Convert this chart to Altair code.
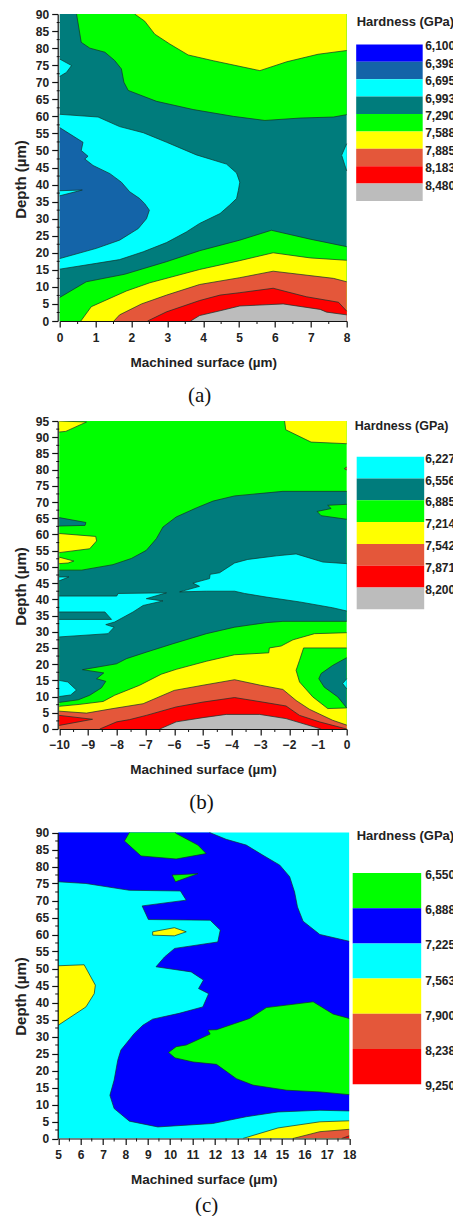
import altair as alt
import pandas as pd

BLUE, STEEL, CYAN, TEAL, GREEN, YELLOW, ORANGE, RED, GREY = (
    "#0000ff", "#1464a8", "#00ffff", "#007c7c", "#00ff00", "#ffff00", "#e4573a", "#ff0000", "#bcbcbc")
FONT = "Liberation Sans"

# ---------- panel (a) contour regions: (x, depth), painted in order
A_POLYS = [
 (TEAL, [(0,90),(8,90),(8,0),(0,0)]),
 (GREEN, [(0.47,90),(0.6,81.7),(0.84,80),(1.26,78.8),(1.53,76.4),(1.72,73.9),(1.79,70),(1.91,67.6),(2.7,64.4),(3.72,62),(4.84,60),(5.72,58.8),(6.7,59.5),(7.63,59.8),(8,60.5),(8,90)]),
 (YELLOW, [(2.09,90),(2.37,87.9),(2.65,84.1),(3.07,81.2),(3.58,78),(4.28,76.3),(5.58,73.4),(6.33,76),(7.2,78.2),(8,79.3),(8,90)]),
 (CYAN, [(0,76.8),(0.33,74.9),(0.19,72.9),(0,71.7)]),
 (CYAN, [(8,52),(7.86,48.6),(8,44)]),
 (CYAN, [(0,60.6),(1.07,59.8),(1.67,57),(2.33,55.2),(2.98,52.4),(3.81,48.7),(4.65,46),(4.93,43.4),(5.02,40.7),(4.98,38.3),(4.93,35.9),(4.74,34),(4.47,31.5),(3.9,28.6),(3.53,26.1),(2.98,23),(2.33,20.3),(1.67,18),(1.02,16.9),(0,15.2)]),
 (STEEL, [(0,56.7),(0.65,52.4),(0.6,50),(0.79,48.3),(0.7,47.5),(0.93,45.6),(1.4,43.2),(1.72,40.7),(1.95,37.9),(2.23,35.9),(2.37,34.4),(2.5,32.5),(2.42,30),(2.19,27.1),(1.67,23.7),(1.02,21.3),(0,18.3)]),
 (CYAN, [(0,38.2),(0.63,38.4),(0,36.7)]),
 (GREEN, [(0,6.9),(0.74,11.5),(1.81,13.7),(2.98,17.4),(3.9,20.6),(5.02,23.7),(5.9,26.6),(6.98,24),(8,21.8),(8,0),(0,0)]),
 (YELLOW, [(0.59,0),(0.88,4.2),(1.86,8.8),(2.51,11.2),(3.9,15.1),(5.02,17.7),(5.95,20),(6.98,18.5),(8,17.8),(8,0)]),
 (ORANGE, [(1.51,0),(1.67,1.8),(2.28,5),(2.98,7.6),(3.9,10.7),(5.02,12.7),(5.95,14.6),(7.63,12.5),(8,11.5),(8,0)]),
 (RED, [(2.45,0),(2.98,2.7),(3.9,6),(4.47,7.6),(5.02,8.3),(5.95,9.6),(6.88,7.1),(7.77,5.5),(8,2.9),(8,0)]),
 (GREY, [(3.65,0),(3.9,1.6),(4.47,3),(5.02,4.4),(6.23,5),(7.26,3.4),(7.44,2.6),(8,1.8),(8,0)]),
]

# ---------- panel (b)
B_POLYS = [
 (GREEN, [(-10,95),(0,95),(0,0),(-10,0)]),
 (YELLOW, [(-10,95),(-9.05,94.7),(-9.77,91.8),(-10,91.6)]),
 (YELLOW, [(-2.16,95),(-2.12,92.3),(-1.24,88.5),(0,88),(0,95)]),
 (ORANGE, [(0,80.8),(-0.08,80.3),(0,79.9)]),
 (TEAL, [(-10,49),(-9.22,49),(-8.13,50.7),(-7.49,52.6),(-6.97,55.1),(-6.62,58.7),(-6.39,62.3),(-5.93,65.4),(-5.23,68.2),(-4.65,70.3),(-3.9,71.9),(-2.22,73.3),(0,73.3),(0,33.2),(-2.22,33.2),(-2.8,32.8),(-3.9,31.4),(-4.88,29.4),(-6.04,26.3),(-6.97,23.7),(-7.66,21.7),(-8.01,20.1),(-9.19,18.3),(-8.45,17.3),(-8.7,15.5),(-8.38,14.7),(-8.53,12.7),(-8.94,10.4),(-9.34,9),(-10,8.2)]),
 (CYAN, [(-5.81,42.3),(-5.12,44),(-5.35,45),(-4.77,46.4),(-4.75,47.7),(-4.42,48.2),(-3.9,51.2),(-3.44,52.3),(-2.45,53.4),(-1.76,54),(-0.83,51.5),(0,51),(0,36.4),(-0.49,37.4),(-1.64,39.2),(-2.8,40.7),(-3.55,41.8),(-3.9,42.5),(-4.88,42.5)]),
 (CYAN, [(-10,41),(-8,41),(-7.95,41.8),(-6.27,42),(-6.97,40.2),(-6.39,39.5),(-7.08,38.1),(-7.43,36.1),(-8.07,33),(-8.38,32.2),(-8.09,31.4),(-8.3,29.4),(-10,28.4)]),
 (TEAL, [(-10,36.1),(-8.41,36.1),(-8.18,33.8),(-10,33.8)]),
 (CYAN, [(-10,46.9),(-9.66,46.9),(-10,45.7)]),
 (CYAN, [(-10,15),(-9.7,14.5),(-9.4,12),(-9.6,10.5),(-10,10)]),
 (TEAL, [(-10,65.2),(-9.07,63.7),(-9.1,62.8),(-10,62.6)]),
 (YELLOW, [(-10,60.3),(-8.73,59.4),(-8.7,58),(-8.94,55.6),(-10,54.4)]),
 (YELLOW, [(-10,53),(-9.49,51.8),(-9.69,51.2),(-10,51)]),
 (GREEN, [(0,69.3),(-0.66,69),(-0.54,68),(-1.03,67.1),(-0.89,65.8),(0,64.7)]),
 (YELLOW, [(-10,7),(-9.28,7.6),(-8.47,8.5),(-8.07,10.4),(-7.2,13.5),(-6.45,16.9),(-5.93,18.4),(-4.88,20.9),(-3.9,22.9),(-2.71,23.5),(-2.69,25),(-2.28,25.6),(-1.87,27.5),(-1.12,29.4),(0,29.7),(0,0),(-10,0)]),
 (GREEN, [(-1.5,25),(0,25),(0,6.5),(-0.66,6.3),(-1.18,9.9),(-1.64,14.5),(-1.76,18.1),(-1.64,21.2)]),
 (TEAL, [(0,22),(-0.49,19.6),(-0.89,17.1),(-0.97,15.5),(-0.78,12.9),(-0.31,9.9),(0,6.5)]),
 (CYAN, [(0,15.5),(-0.14,14),(0,12.4)]),
 (ORANGE, [(-10,5.5),(-9.05,4.9),(-8.13,6.3),(-7.08,7.8),(-6,11.9),(-5,13.5),(-3.9,15.2),(-3,13.5),(-2.22,12.2),(-1.76,8.8),(-1.3,6.1),(-0.49,2.7),(0,1.2),(0,0),(-10,0)]),
 (RED, [(-10,4.2),(-8.84,3),(-10,1.1)]),
 (RED, [(-8.59,0),(-8,2.2),(-7.55,2.9),(-6.97,4.2),(-5.93,6.8),(-5,8.3),(-3.9,9.7),(-2.92,8.3),(-2.11,7.1),(-1.64,4.2),(-0.95,2.2),(0,0)]),
 (GREY, [(-6.5,0),(-5.93,2.2),(-5,3.5),(-4.19,4.5),(-3.03,4.5),(-2.11,3.2),(-0.89,0)]),
]

# ---------- panel (c)
C_POLYS = [
 (CYAN, [(5,90),(18,90),(18,0),(5,0)]),
 (BLUE, [(5,90),(11.76,90),(12.5,88),(13.4,86.3),(14.15,83.3),(14.9,80.4),(15.34,77),(15.56,72.5),(15.69,68.1),(15.94,63.9),(16.69,60),(18,58),(18,8.1),(16.69,8.3),(14.82,7.8),(13.4,6.4),(11.9,4.4),(9.45,3.4),(8.18,5.1),(7.5,8.8),(7.31,12.7),(7.5,17.2),(7.66,23),(7.8,26),(8.4,30.9),(8.78,33.3),(9.22,35.1),(10.4,36.8),(11.46,38.7),(11.72,42.6),(11.27,44.1),(11.49,46.6),(10.94,49),(9.37,50.5),(9.75,53.4),(10.2,55.9),(12.13,57.8),(12.24,61.3),(11.79,64.2),(9.03,64.4),(8.75,68.4),(10.72,70.1),(10.46,72.8),(8.18,73),(6.24,75),(5,75.5)]),
 (GREEN, [(8.18,90),(7.96,87.5),(8.7,83.1),(10.27,82.2),(11.61,83.8),(11.24,86.3),(10.27,89.7),(10.22,90)]),
 (GREEN, [(10.09,77.5),(11.24,77.9),(10.24,75.5)]),
 (YELLOW, [(9.22,60.8),(10.19,62),(10.72,60.8),(10.19,59.6),(9.22,59.8)]),
 (YELLOW, [(5,50.8),(6.16,51.1),(6.66,45.1),(6.61,42.6),(6.24,38.7),(5,33.3)]),
 (GREEN, [(9.93,25.3),(10.27,27),(10.72,27.5),(11.79,30.7),(11.69,31.9),(12.07,32),(12.88,33.8),(13.55,35.3),(14.3,38.5),(16.39,40.2),(17.28,36.6),(18,35.3),(18,12.9),(16.69,13.7),(15.2,14.2),(13.7,15.7),(12.96,17.6),(12.07,21.8),(11.03,22.5),(10.22,23.7)]),
 (YELLOW, [(13.25,0),(14.82,3.1),(16.69,4.9),(18,5.2),(18,0)]),
 (ORANGE, [(15.49,0),(16.69,2),(18,2.7),(18,0)]),
 (RED, [(17.66,0),(18,0.8),(18,0)]),
]

A_LEG_COLORS = [BLUE, STEEL, CYAN, TEAL, GREEN, YELLOW, ORANGE, RED, GREY]
A_LEG_LABELS = ["6,100","6,398","6,695","6,993","7,290","7,588","7,885","8,183","8,480"]
B_LEG_COLORS = [CYAN, TEAL, GREEN, YELLOW, ORANGE, RED, GREY]
B_LEG_LABELS = ["6,227","6,556","6,885","7,214","7,542","7,871","8,200"]
C_LEG_COLORS = [GREEN, BLUE, CYAN, YELLOW, ORANGE, RED]
C_LEG_LABELS = ["6,550","6,888","7,225","7,563","7,900","8,238","9,250"]

COL_W, LEG_W = 292, 96


def boundary_segments(pts, xd, yd):
    """Parts of a region's outline that are not on the frame of the plot."""
    rows, seg = [], 0
    n = len(pts)
    for k in range(n):
        a, b = pts[k], pts[(k + 1) % n]
        on_frame = (a[0] == b[0] and a[0] in xd) or (a[1] == b[1] and a[1] in yd)
        if on_frame:
            seg += 1
            continue
        rows.append({"x": a[0], "y": a[1], "s": seg, "i": 2 * k})
        rows.append({"x": b[0], "y": b[1], "s": seg, "i": 2 * k + 1})
    return pd.DataFrame(rows)


def panel(polys, xd, yd, xt, yt, xm, ym, xr, yr, h, cap, cap_x, cap_y, ytitle_y):
    xs = alt.Scale(domain=xd, range=xr, nice=False, zero=False)
    ys = alt.Scale(domain=yd, range=yr, nice=False, zero=False)
    xax = alt.Axis(values=xt, title="Machined surface (µm)", grid=False, tickSize=6,
                   labelPadding=5, titlePadding=12, format="d", labelFlush=False, zindex=1)
    yax = alt.Axis(values=yt, title="Depth (µm)", grid=False, tickSize=6, labelPadding=3,
                   titleX=-29, titleY=ytitle_y, format="d", zindex=1, labelFlush=False,
                   titleFontSize=15)
    X = alt.X("x:Q", scale=xs, axis=xax)
    Y = alt.Y("y:Q", scale=ys, axis=yax)
    layers = []
    for col, pts in polys:
        closed = pts + [pts[0]]
        df = pd.DataFrame({"x": [p[0] for p in closed], "y": [p[1] for p in closed],
                           "i": range(len(closed))})
        layers.append(alt.Chart(df).mark_line(fill=col, strokeWidth=0, clip=True).encode(
            x=X, y=Y, order="i:Q"))
        seg = boundary_segments(pts, xd, yd)
        if len(seg):
            layers.append(alt.Chart(seg).mark_line(color="#12302a", strokeWidth=0.7, clip=True).encode(
                x=X, y=Y, detail="s:N", order="i:Q"))
    # minor ticks
    layers.append(alt.Chart(pd.DataFrame({"y": ym})).mark_rule(color="#111", strokeWidth=1).encode(
        y=Y, x=alt.value(xr[0] - 3), x2=alt.value(xr[0])))
    layers.append(alt.Chart(pd.DataFrame({"x": xm})).mark_rule(color="#111", strokeWidth=1).encode(
        x=X, y=alt.value(yr[0]), y2=alt.value(yr[0] + 3)))
    # caption
    layers.append(alt.Chart(pd.DataFrame({"t": [cap]})).mark_text(
        font="Liberation Serif", fontSize=21, color="#111", align="center", baseline="middle").encode(
        text="t:N", x=alt.value(cap_x), y=alt.value(cap_y)))
    return alt.layer(*layers).properties(width=COL_W, height=h)


def legend(colors, labels, top, band, h, title, title_y, title_x, title_size, rect_l, rect_r, lab_x):
    n = len(colors)
    ys = alt.Scale(domain=[0, n], range=[top, top + n * band], nice=False, zero=False)
    df = pd.DataFrame({"a": range(n), "b": [i + 1 for i in range(n)], "c": colors})
    rect = alt.Chart(df).mark_rect().encode(
        y=alt.Y("a:Q", scale=ys, axis=None), y2="b:Q",
        x=alt.value(rect_l), x2=alt.value(rect_r),
        fill=alt.Fill("c:N", scale=None))
    ldf = pd.DataFrame({"a": range(len(labels)), "t": labels})
    lab = alt.Chart(ldf).mark_text(font=FONT, fontWeight="bold", fontSize=12, color="#222",
                                   align="left", baseline="middle", dy=2).encode(
        y=alt.Y("a:Q", scale=ys, axis=None), x=alt.value(lab_x), text="t:N")
    ttl = alt.Chart(pd.DataFrame({"t": [title]})).mark_text(
        font=FONT, fontWeight="bold", fontSize=title_size, color="#222", align="left", baseline="middle").encode(
        text="t:N", x=alt.value(title_x), y=alt.value(title_y))
    return alt.layer(rect, lab, ttl).properties(width=LEG_W, height=h)


TITLE = "Hardness (GPa)"
row_a = panel(A_POLYS, [0, 8], [0, 90], list(range(9)), list(range(0, 91, 5)),
              [i + 0.5 for i in range(8)], [i + 2.5 for i in range(0, 90, 5)],
              [2, 289], [307, 0], 307, "(a)", 142, 381.5, 165)
leg_a = legend(A_LEG_COLORS, A_LEG_LABELS, 30.4, 17.4, 307, TITLE, 8, 7, 13, 6.5, 73, 75.5)
row_b = panel(B_POLYS, [-10, 0], [0, 95], list(range(-10, 1)), list(range(0, 96, 5)),
              [i + 0.5 for i in range(-10, 0)], [i + 2.5 for i in range(0, 95, 5)],
              [1.5, 289], [308, 0], 308, "(b)", 143.7, 382, 165)
leg_b = legend(B_LEG_COLORS, B_LEG_LABELS, 35.7, 21.8, 308, TITLE, 4.7, 5, 12.5, 7, 74.5, 75.5)
row_c = panel(C_POLYS, [5, 18], [0, 90], list(range(5, 19)), list(range(0, 91, 5)),
              [i + 0.5 for i in range(5, 18)], [i + 2.5 for i in range(0, 90, 5)],
              [0.5, 291.5], [309.5, 3.5], 309.5, "(c)", 149, 377, 167)
leg_c = legend(C_LEG_COLORS, C_LEG_LABELS, 44, 35.2, 309.5, TITLE, 6.7, 7, 13, 3, 71.5, 75.5)

chart = alt.concat(row_a, leg_a, row_b, leg_b, row_c, leg_c, columns=2,
                   spacing=alt.RowColnumber(row=100, column=0), bounds="flush").properties(
    padding={"left": 5.7, "top": 0, "right": -3, "bottom": 0},
).configure_view(stroke=None).configure_axis(
    labelFont=FONT, labelFontWeight="bold", labelFontSize=12, labelColor="#222",
    titleFont=FONT, titleFontWeight="bold", titleFontSize=13.5, titleColor="#222",
    domainColor="#111", tickColor="#111", domainWidth=1.2, tickWidth=1.2,
)

chart.save("out.html", embed_options={"renderer": "svg", "actions": False})
